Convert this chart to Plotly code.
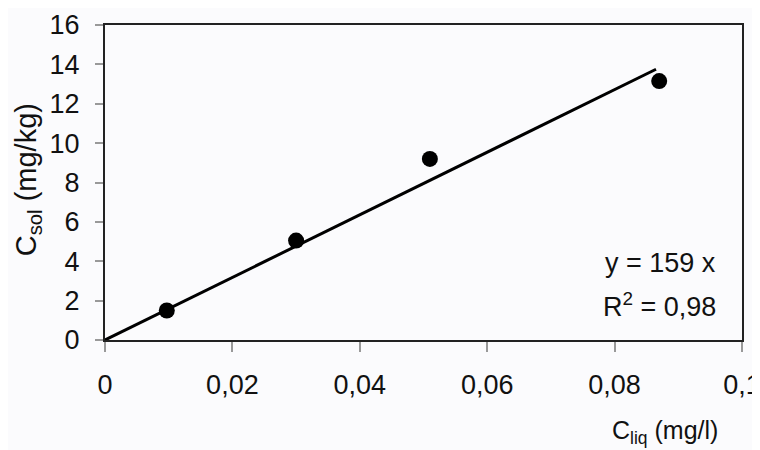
import plotly.graph_objects as go

c_liq = [0.0097, 0.030, 0.051, 0.087]
c_sol = [1.5, 5.05, 9.2, 13.15]
slope = 159
fit_x = [0, 0.0865]
fit_y = [slope * v for v in fit_x]
x_tickvals = [0, 0.02, 0.04, 0.06, 0.08, 0.1]
x_ticktext = ["0", "0,02", "0,04", "0,06", "0,08", "0,1"]
y_tickvals = [0, 2, 4, 6, 8, 10, 12, 14, 16]

font = "Liberation Sans, Arial, sans-serif"

fig = go.Figure()
fig.add_trace(go.Scatter(x=fit_x, y=fit_y, mode="lines",
                         line=dict(color="black", width=3), showlegend=False))
fig.add_trace(go.Scatter(x=c_liq, y=c_sol, mode="markers",
                         marker=dict(color="black", size=16), showlegend=False))

fig.update_layout(
    width=752, height=442,
    margin=dict(l=97, r=18, t=17, b=110),
    paper_bgcolor="#fbfbfd", plot_bgcolor="#fbfbfd",
    font=dict(family=font, size=27, color="#111"),
    xaxis=dict(range=[0, 0.1], tickvals=x_tickvals, ticktext=x_ticktext,
               showgrid=False, zeroline=False, showline=True, mirror=True,
               linecolor="#222", linewidth=2, ticks="outside", ticklen=10,
               tickcolor="#999", tickwidth=1.5, ticklabelstandoff=10,
               ticklabeloverflow="allow", automargin=False),
    yaxis=dict(range=[0, 16], tickvals=y_tickvals,
               showgrid=False, zeroline=False, showline=True, mirror=True,
               linecolor="#222", linewidth=2, ticks="outside", ticklen=8,
               tickcolor="#999", tickwidth=1.5, ticklabelstandoff=10,
               ticklabeloverflow="allow", automargin=False),
    annotations=[
        dict(text="y = 159 x", xref="paper", yref="paper",
             x=0.962, y=0.245, xanchor="right", yanchor="middle", showarrow=False,
             font=dict(size=27)),
        dict(text="R<sup>2</sup> = 0,98", xref="paper", yref="paper",
             x=0.962, y=0.112, xanchor="right", yanchor="middle", showarrow=False,
             font=dict(size=27)),
        dict(text="C<sub>liq</sub> (mg/l)", xref="paper", yref="paper",
             x=0.879, y=-0.292, xanchor="center", yanchor="middle", showarrow=False,
             font=dict(size=25)),
        dict(text="C<sub>sol</sub> (mg/kg)", xref="paper", yref="paper",
             x=-0.121, y=0.51, xanchor="center", yanchor="middle", showarrow=False,
             textangle=-90, font=dict(size=29)),
    ],
)

fig.write_html("out.html")
